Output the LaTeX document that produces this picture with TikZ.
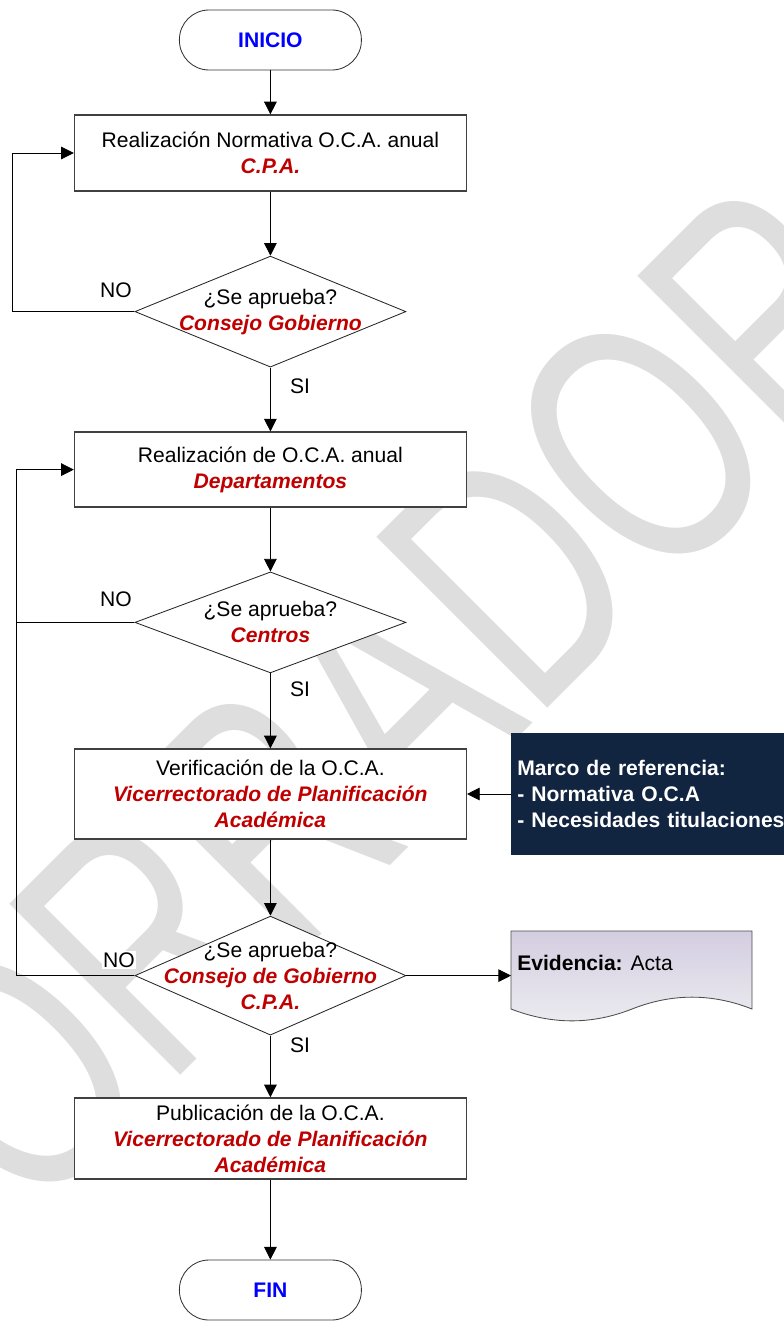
\documentclass[tikz,border=0pt]{standalone}
\usepackage{fontspec}
\setmainfont{Liberation Sans}
\usetikzlibrary{arrows.meta,shapes.geometric}

\definecolor{ocared}{RGB}{192,0,0}
\definecolor{ocablue}{RGB}{0,0,255}
\definecolor{marconavy}{RGB}{17,36,64}
\definecolor{evtop}{RGB}{212,205,225}
\definecolor{evbot}{RGB}{236,236,240}
\definecolor{wmgray}{RGB}{222,222,222}

\newcommand{\flowfont}{\fontsize{15pt}{18.5pt}\selectfont}
\newcommand{\resp}[1]{\textcolor{ocared}{\bfseries\itshape #1}}

\begin{document}
\begin{tikzpicture}[
  font=\flowfont,
  wmark/.style={text=wmgray, inner sep=0pt,
    font=\fontsize{250pt}{250pt}\selectfont},
  terminal/.style={draw=black!80, line width=0.6pt, fill=white,
    rounded corners=0.74cm, minimum width=4.55cm, minimum height=1.5cm,
    font=\flowfont\bfseries, text=ocablue},
  proceso/.style={draw=black!75, line width=0.9pt, fill=white,
    minimum width=9.8cm, align=center, inner sep=0pt},
  decision/.style={diamond, draw=black!85, line width=0.6pt, fill=white,
    inner sep=0pt, minimum width=6.775cm},
  pregunta/.style={align=center, inner sep=0pt},
  marco/.style={fill=marconavy, text=white, font=\flowfont\bfseries,
    align=left, text width=7.2cm, inner xsep=0.15cm, minimum height=3.05cm},
  etiqueta/.style={inner sep=1pt},
  flecha/.style={-{Triangle[length=9pt,width=9pt]}, line width=0.6pt},
  linea/.style={line width=0.6pt}
]
  \useasboundingbox (0,0) rectangle (19.575,-33.35);

  % Marca de agua
  \begin{scope}[shift={(8.3,-18.83)}, rotate=45, xscale=0.7]
    \node[wmark, transform shape] (borrador) at (0,0) {BORRADOR};
  \end{scope}

  % Terminales
  \node[terminal] (inicio) at (6.76,-1.0) {INICIO};
  \node[terminal] (fin) at (6.76,-32.25) {FIN};

  % Procesos
  \node[proceso, minimum height=1.9cm] (normativa) at (6.76,-3.825)
    {Realización Normativa O.C.A. anual\\\resp{C.P.A.}};
  \node[proceso, minimum height=1.875cm] (realizacion) at (6.76,-11.74)
    {Realización de O.C.A. anual\\\resp{Departamentos}};
  \node[proceso, minimum height=2.25cm] (verificacion) at (6.76,-19.85)
    {Verificación de la O.C.A.\\\resp{Vicerrectorado de Planificación}\\\resp{Académica}};
  \node[proceso, minimum height=2.025cm] (publicacion) at (6.76,-28.46)
    {Publicación de la O.C.A.\\\resp{Vicerrectorado de Planificación}\\\resp{Académica}};

  % Decisiones
  \node[decision, minimum height=2.775cm] (apruebaCG) at (6.76,-7.79) {};
  \node[pregunta] (apruebaCGt) at (apruebaCG) {¿Se aprueba?\\\resp{Consejo Gobierno}};
  \node[decision, minimum height=2.525cm] (apruebaC) at (6.76,-15.56) {};
  \node[pregunta] (apruebaCt) at (apruebaC) {¿Se aprueba?\\\resp{Centros}};
  \node[decision, minimum height=2.975cm] (apruebaCGP) at (6.76,-24.39) {};
  \node[pregunta] (apruebaCGPt) at (apruebaCGP)
    {¿Se aprueba?\\\resp{Consejo de Gobierno}\\\resp{C.P.A.}};

  % Marco de referencia
  \node[marco, anchor=west] (marco) at (12.775,-19.85)
    {Marco de referencia:\\- Normativa O.C.A\\- Necesidades titulaciones};

  % Evidencia
  \shade[top color=evtop, bottom color=evbot, draw=black!70, line width=0.6pt]
    (12.775,-23.275) -- (18.8,-23.275) -- (18.8,-25.225)
    .. controls (17.8,-24.83) and (16.8,-24.83) .. (15.8,-25.225)
    .. controls (14.8,-25.62) and (13.8,-25.62) .. (12.775,-25.225) -- cycle;
  \coordinate (evidencia) at (12.775,-24.39);
  \node[anchor=west, inner sep=0pt] (evtexto) at (12.925,-24.075)
    {\textbf{Evidencia:} Acta};

  % Retornos
  \coordinate (bucleA) at (0.3125,0);
  \coordinate (bucleB) at (0.4,0);

  % Etiquetas
  \node[etiqueta] (no1) at (2.9,-7.25) {NO};
  \node[etiqueta] (si1) at (7.5,-9.65) {SI};
  \node[etiqueta] (no2) at (2.9,-14.98) {NO};
  \node[etiqueta] (si2) at (7.5,-17.22) {SI};
  \node[etiqueta] (si3) at (7.5,-26.12) {SI};

  % Conectores
  \draw[flecha] (inicio) -- (normativa);
  \draw[flecha] (normativa) -- (apruebaCG);
  \draw[flecha] (apruebaCG.west) -- (apruebaCG.west -| bucleA) |- (normativa.west);
  \draw[flecha] (apruebaCG) -- (realizacion);
  \draw[flecha] (realizacion) -- (apruebaC);
  \draw[linea] (apruebaC.west) -- (apruebaC.west -| bucleB);
  \draw[flecha] (apruebaC) -- (verificacion);
  \draw[flecha] (marco.west) -- (verificacion.east);
  \draw[flecha] (verificacion) -- (apruebaCGP);
  \draw[flecha] (apruebaCGP.west) -- (apruebaCGP.west -| bucleB) |- (realizacion.west);
  \draw[flecha] (apruebaCGP.east) -- (evidencia);
  \draw[flecha] (apruebaCGP) -- (publicacion);
  \draw[flecha] (publicacion) -- (fin);

  \node[etiqueta, fill=white] (no3) at (2.975,-24.0) {NO};
\end{tikzpicture}
\end{document}
